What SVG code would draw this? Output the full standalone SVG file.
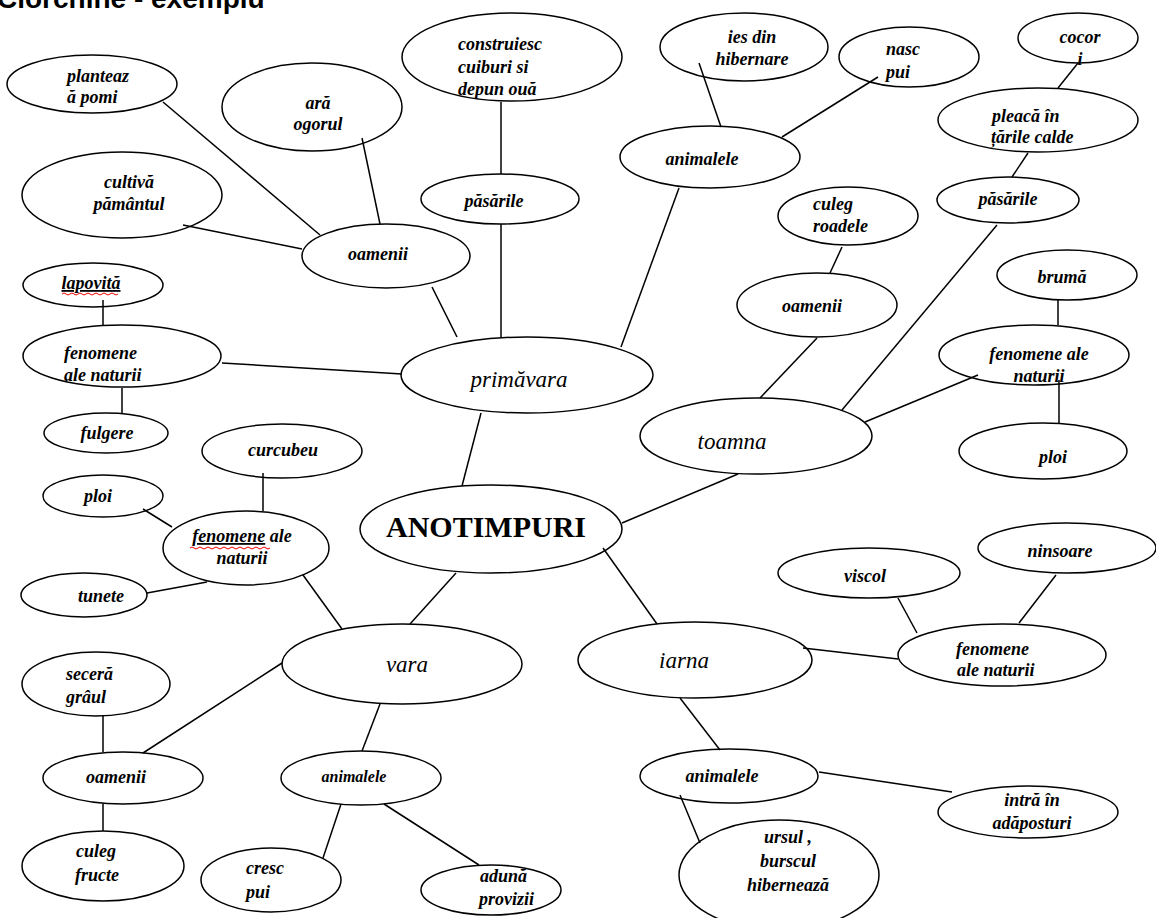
<svg xmlns="http://www.w3.org/2000/svg" width="1156" height="918" viewBox="0 0 1156 918">
<style>
.n ellipse{fill:#fff;stroke:#000;stroke-width:1.5}
.n text{font-family:"Liberation Serif","Times New Roman",serif;font-style:italic;font-weight:bold;font-size:18px;fill:#000}
.n text.m{text-anchor:middle}
.n text.b{font-size:23px;font-weight:normal}
.n text.s{font-size:16px}
.n text.k{font-style:normal;font-weight:bold;font-size:30px}
.c line{stroke:#000;stroke-width:1.5}
.sq{fill:none;stroke:#e00;stroke-width:1}
.title{font-family:"Liberation Sans",Arial,sans-serif;font-weight:bold;font-size:28px;fill:#000}
</style>
<rect width="1156" height="918" fill="#fff"/>
<text class="title" x="-3" y="8">Ciorchine - exemplu</text>

<g id="n-anotimpuri" class="n"><ellipse cx="491" cy="529" rx="131" ry="44"/><text class="m k" x="486" y="537">ANOTIMPURI</text></g>
<g id="n-primavara" class="n"><ellipse cx="527" cy="375" rx="126" ry="38"/><text class="m b" x="519" y="387">primăvara</text></g>
<g id="n-toamna" class="n"><ellipse cx="756" cy="436" rx="116" ry="38"/><text class="m b" x="732" y="449">toamna</text></g>
<g id="n-vara" class="n"><ellipse cx="402" cy="664" rx="120" ry="40"/><text class="m b" x="407" y="672">vara</text></g>
<g id="n-iarna" class="n"><ellipse cx="695" cy="660" rx="117" ry="38"/><text class="m b" x="684" y="668">iarna</text></g>

<g id="n-p-oameni" class="n"><ellipse cx="386" cy="256" rx="84" ry="32"/><text class="m" x="378" y="260">oamenii</text></g>
<g id="n-p-planteaza" class="n"><ellipse cx="92" cy="84" rx="85" ry="29"/><text x="67" y="82">planteaz</text><text x="67" y="103">ă pomi</text></g>
<g id="n-p-ara" class="n"><ellipse cx="312" cy="107" rx="90" ry="44"/><text class="m" x="318" y="109">ară</text><text class="m" x="318" y="130">ogorul</text></g>
<g id="n-p-cultiva" class="n"><ellipse cx="122" cy="195" rx="100" ry="43"/><text class="m" x="129" y="188">cultivă</text><text class="m" x="129" y="210">pământul</text></g>
<g id="n-p-fenomene" class="n"><ellipse cx="122" cy="356" rx="99" ry="31"/><text x="64" y="359">fenomene</text><text x="64" y="381">ale naturii</text></g>
<g id="n-p-lapovita" class="n"><ellipse cx="93" cy="285" rx="70" ry="22"/><text class="m" x="91" y="289" text-decoration="underline">lapovită</text><path class="sq" d="M62 294 q2 -2 4 0 t4 0 t4 0 t4 0 t4 0 t4 0 t4 0 t4 0 t4 0 t4 0 t4 0 t4 0 t4 0 t4 0"/></g>
<g id="n-p-fulgere" class="n"><ellipse cx="106" cy="433" rx="62" ry="20"/><text class="m" x="107" y="439">fulgere</text></g>
<g id="n-p-pasari" class="n"><ellipse cx="500" cy="199" rx="79" ry="25"/><text class="m" x="494" y="207">păsările</text></g>
<g id="n-p-construiesc" class="n"><ellipse cx="512" cy="57" rx="110" ry="44"/><text x="458" y="50">construiesc</text><text x="458" y="73">cuiburi si</text><text x="458" y="95">depun ouă</text></g>
<g id="n-p-animale" class="n"><ellipse cx="710" cy="157" rx="90" ry="31"/><text class="m" x="702" y="165">animalele</text></g>
<g id="n-p-ies" class="n"><ellipse cx="744" cy="47" rx="84" ry="34"/><text class="m" x="752" y="43">ies din</text><text class="m" x="752" y="65">hibernare</text></g>
<g id="n-p-nasc" class="n"><ellipse cx="909" cy="57" rx="70" ry="30"/><text x="886" y="55">nasc</text><text x="886" y="78">pui</text></g>

<g id="n-t-oameni" class="n"><ellipse cx="817" cy="305" rx="80" ry="32"/><text class="m" x="812" y="312">oamenii</text></g>
<g id="n-t-culeg" class="n"><ellipse cx="848" cy="216" rx="70" ry="29"/><text x="813" y="210">culeg</text><text x="813" y="232">roadele</text></g>
<g id="n-t-pasari" class="n"><ellipse cx="1008" cy="200" rx="71" ry="23"/><text class="m" x="1008" y="205">păsările</text></g>
<g id="n-t-pleaca" class="n"><ellipse cx="1038" cy="120" rx="100" ry="32"/><text x="992" y="122">pleacă în</text><text x="991" y="143">țările calde</text></g>
<g id="n-t-cocori" class="n"><ellipse cx="1078" cy="38" rx="60" ry="25"/><text class="m" x="1080" y="43">cocor</text><text class="m" x="1080" y="65">i</text></g>
<g id="n-t-fenomene" class="n"><ellipse cx="1034" cy="355" rx="95" ry="30"/><text class="m" x="1039" y="360">fenomene ale</text><text class="m" x="1039" y="382">naturii</text></g>
<g id="n-t-bruma" class="n"><ellipse cx="1067" cy="275" rx="70" ry="25"/><text class="m" x="1062" y="283">brumă</text></g>
<g id="n-t-ploi" class="n"><ellipse cx="1043" cy="451" rx="84" ry="28"/><text class="m" x="1053" y="463">ploi</text></g>

<g id="n-v-fenomene" class="n"><ellipse cx="246" cy="548" rx="83" ry="37"/><text class="m" x="242" y="542"><tspan text-decoration="underline">fenomene</tspan> ale</text><text class="m" x="242" y="564">naturii</text><path class="sq" d="M190 548 q2 -2 4 0 t4 0 t4 0 t4 0 t4 0 t4 0 t4 0 t4 0 t4 0 t4 0 t4 0 t4 0 t4 0 t4 0 t4 0 t4 0 t4 0 t4 0 t4 0 t4 0"/></g>
<g id="n-v-curcubeu" class="n"><ellipse cx="282" cy="451" rx="80" ry="27"/><text class="m" x="283" y="456">curcubeu</text></g>
<g id="n-v-ploi" class="n"><ellipse cx="103" cy="496" rx="60" ry="21"/><text class="m" x="98" y="502">ploi</text></g>
<g id="n-v-tunete" class="n"><ellipse cx="84" cy="595" rx="63" ry="22"/><text class="m" x="101" y="602">tunete</text></g>
<g id="n-v-oameni" class="n"><ellipse cx="123" cy="778" rx="80" ry="26"/><text class="m" x="116" y="783">oamenii</text></g>
<g id="n-v-secera" class="n"><ellipse cx="96" cy="684" rx="74" ry="32"/><text x="66" y="680">seceră</text><text x="66" y="703">grâul</text></g>
<g id="n-v-culeg" class="n"><ellipse cx="103" cy="866" rx="81" ry="35"/><text x="76" y="857">culeg</text><text x="75" y="881">fructe</text></g>
<g id="n-v-animale" class="n"><ellipse cx="361" cy="778" rx="80" ry="27"/><text class="m s" x="354" y="782">animalele</text></g>
<g id="n-v-cresc" class="n"><ellipse cx="271" cy="880" rx="70" ry="32"/><text x="246" y="874">cresc</text><text x="246" y="898">pui</text></g>
<g id="n-v-aduna" class="n"><ellipse cx="491" cy="890" rx="70" ry="25"/><text x="480" y="882">adună</text><text x="479" y="905">provizii</text></g>

<g id="n-i-fenomene" class="n"><ellipse cx="1002" cy="655" rx="104" ry="31"/><text x="956" y="655">fenomene</text><text x="957" y="676">ale naturii</text></g>
<g id="n-i-viscol" class="n"><ellipse cx="869" cy="573" rx="91" ry="25"/><text class="m" x="865" y="582">viscol</text></g>
<g id="n-i-ninsoare" class="n"><ellipse cx="1067" cy="548" rx="89" ry="25"/><text class="m" x="1060" y="557">ninsoare</text></g>
<g id="n-i-animale" class="n"><ellipse cx="729" cy="776" rx="89" ry="27"/><text class="m" x="722" y="782">animalele</text></g>
<g id="n-i-intra" class="n"><ellipse cx="1028" cy="812" rx="90" ry="26"/><text class="m" x="1032" y="806">intră în</text><text class="m" x="1032" y="829">adăposturi</text></g>
<g id="n-i-ursul" class="n"><ellipse cx="779" cy="875" rx="100" ry="55"/><text class="m" x="788" y="843">ursul ,</text><text class="m" x="788" y="867">burscul</text><text class="m" x="788" y="891">hibernează</text></g>

<g id="connectors" class="c">
<line x1="462" y1="486" x2="481" y2="413"/>
<line x1="622" y1="523" x2="738" y2="474"/>
<line x1="456" y1="573" x2="410" y2="624"/>
<line x1="603" y1="548" x2="657" y2="624"/>
<line x1="222" y1="363" x2="402" y2="374"/>
<line x1="432" y1="287" x2="457" y2="337"/>
<line x1="501" y1="224" x2="501" y2="338"/>
<line x1="679" y1="188" x2="621" y2="347"/>
<line x1="501" y1="102" x2="501" y2="174"/>
<line x1="699" y1="63" x2="721" y2="127"/>
<line x1="782" y1="137" x2="878" y2="77"/>
<line x1="163" y1="102" x2="320" y2="235"/>
<line x1="362" y1="138" x2="380" y2="224"/>
<line x1="183" y1="225" x2="302" y2="249"/>
<line x1="103" y1="300" x2="103" y2="325"/>
<line x1="122" y1="388" x2="122" y2="413"/>
<line x1="263" y1="473" x2="263" y2="511"/>
<line x1="143" y1="509" x2="172" y2="527"/>
<line x1="147" y1="593" x2="207" y2="582"/>
<line x1="303" y1="575" x2="342" y2="629"/>
<line x1="282" y1="663" x2="143" y2="753"/>
<line x1="103" y1="716" x2="103" y2="752"/>
<line x1="103" y1="804" x2="103" y2="831"/>
<line x1="380" y1="704" x2="362" y2="751"/>
<line x1="341" y1="804" x2="323" y2="858"/>
<line x1="384" y1="804" x2="479" y2="865"/>
<line x1="842" y1="247" x2="830" y2="273"/>
<line x1="817" y1="338" x2="760" y2="398"/>
<line x1="997" y1="225" x2="842" y2="410"/>
<line x1="1028" y1="153" x2="1012" y2="177"/>
<line x1="1078" y1="63" x2="1058" y2="88"/>
<line x1="865" y1="422" x2="978" y2="375"/>
<line x1="1058" y1="300" x2="1058" y2="325"/>
<line x1="1059" y1="380" x2="1059" y2="423"/>
<line x1="898" y1="598" x2="917" y2="633"/>
<line x1="1056" y1="575" x2="1019" y2="623"/>
<line x1="803" y1="648" x2="898" y2="659"/>
<line x1="680" y1="698" x2="720" y2="750"/>
<line x1="819" y1="772" x2="952" y2="792"/>
<line x1="680" y1="795" x2="700" y2="843"/>
</g>
</svg>
